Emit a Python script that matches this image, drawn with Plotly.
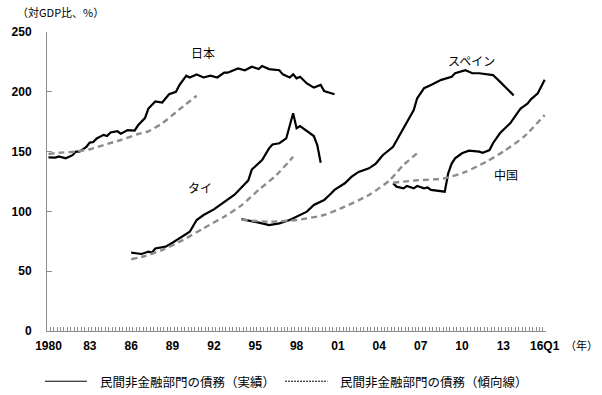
import plotly.graph_objects as go

# ---------------- data (year as decimal, Q1 = .0) ----------------
japan_x = [1980.0, 1980.5, 1980.75, 1981.25, 1981.75, 1982.0, 1982.25, 1982.75, 1983.0, 1983.25,
           1983.5, 1984.0, 1984.25, 1984.5, 1985.0, 1985.25, 1985.75, 1986.25, 1986.5, 1987.0,
           1987.25, 1987.75, 1988.25, 1988.75, 1989.25, 1989.5, 1990.0, 1990.25, 1990.75, 1991.25,
           1991.75, 1992.25, 1992.75, 1993.0, 1993.75, 1994.25, 1994.75, 1995.25, 1995.5, 1996.0,
           1996.75, 1997.0, 1997.5, 1997.75, 1998.0, 1998.25, 1998.75, 1999.25, 1999.75, 2000.0,
           2000.75]
japan_y = [145.2, 145, 146, 144.4, 147, 150, 150, 154, 157.5, 158,
           161, 164, 163, 166, 167, 165, 168, 167.5, 172, 178,
           186, 192, 191, 198, 200, 205.7, 213.5, 212, 214.5, 212,
           213.5, 212, 216, 216, 219.6, 218, 221, 219, 221.6, 219,
           218, 214.6, 212, 214.6, 211.3, 212.6, 207, 203.5, 205.7, 200.7,
           198]
japan_trend_x = [1980.0, 1980.75, 1982.0, 1983.0, 1984.0, 1985.25, 1986.5, 1987.25, 1988.25, 1989.25, 1990.75]
japan_trend_y = [148, 149, 150, 152, 155.5, 159.7, 164.7, 167, 173.6, 183, 196.7]

thai_x = [1986.0, 1986.5, 1986.75, 1987.25, 1987.5, 1987.75, 1988.5, 1989.0, 1989.5, 1990.25,
          1990.75, 1991.25, 1992.0, 1992.5, 1993.25, 1993.5, 1994.0, 1994.5, 1994.75, 1995.5,
          1996.0, 1996.25, 1996.75, 1997.0, 1997.25, 1997.75, 1998.0, 1998.25, 1998.75, 1999.25,
          1999.5, 1999.75]
thai_y = [65.5, 65, 64.4, 66.3, 65.5, 69, 70.5, 73.8, 77.5, 83,
          92.8, 97, 101.7, 106, 112, 114, 120, 126, 135, 143,
          152.7, 156, 157, 159, 161, 182, 169.5, 171.4, 167.5, 163,
          155.5, 140.7]
thai_trend_x = [1986.0, 1987.0, 1988.25, 1989.75, 1991.25, 1992.75, 1994.0, 1995.25, 1996.5, 1997.75]
thai_trend_y = [60, 62.7, 67.7, 76, 85.9, 95.6, 105, 118, 130, 145.7]

spain_x = [1994.0, 1994.75, 1995.5, 1996.0, 1996.75, 1997.5, 1998.25, 1998.75, 1999.25, 2000.0,
           2000.5, 2000.75, 2001.5, 2002.0, 2002.5, 2003.25, 2003.75, 2004.25, 2005.0, 2005.5,
           2006.0, 2006.5, 2006.75, 2007.25, 2007.75, 2008.0, 2008.5, 2009.25, 2009.5, 2010.25,
           2010.75, 2011.25, 2012.25, 2012.75, 2013.25, 2013.75]
spain_y = [93.6, 92, 90, 88.6, 90, 92.8, 97, 99.8, 105.4, 109.5,
           115, 118, 123.5, 129, 133, 136, 140, 147, 154, 164.5,
           175, 184.8, 194.6, 203, 205.7, 207, 210, 212.6, 215.5, 218,
           215.5, 215.5, 214, 208.5, 203, 197]
spain_trend_x = [1994.0, 1996.0, 1998.0, 2000.0, 2001.5, 2003.25, 2004.75, 2005.75, 2006.75]
spain_trend_y = [93, 91.4, 92.8, 97, 104, 113.7, 126, 138.8, 148.6]

china_x = [2005.0, 2005.25, 2005.75, 2006.0, 2006.5, 2006.75, 2007.25, 2007.5, 2007.75, 2008.25,
           2008.75, 2009.0, 2009.25, 2009.5, 2010.0, 2010.5, 2011.25, 2011.5, 2012.0, 2012.25,
           2012.75, 2013.25, 2013.5, 2014.0, 2014.25, 2014.75, 2015.0, 2015.5, 2015.75, 2016.0]
china_y = [123.5, 120.7, 119.3, 121.2, 119.3, 121.2, 119.3, 120, 118, 117,
           116.5, 131.8, 140, 144.4, 148.6, 150.8, 150, 149, 151.3, 157,
           165.3, 171, 173.6, 182, 186, 190, 193.7, 198.7, 204, 210]
china_trend_x = [2005.0, 2006.75, 2008.75, 2010.25, 2011.75, 2013.0, 2014.5, 2016.0]
china_trend_y = [124, 126, 127.7, 133, 141.5, 150, 162.5, 180.6]

tick_years = [1980, 1983, 1986, 1989, 1992, 1995, 1998, 2001, 2004, 2007, 2010, 2013, 2016]
tick_text = ["1980", "83", "86", "89", "92", "95", "98", "01", "04", "07", "10", "13", "16Q1"]

country_labels = ["日本", "タイ", "スペイン", "中国"]
label_pos_x = [1991.2, 1991.0, 2010.7, 2013.2]
label_pos_y = [233, 120, 226, 131]

legend_actual = "民間非金融部門の債務（実績）"
legend_trend = "民間非金融部門の債務（傾向線）"

# ---------------- figure ----------------
CJK = "Noto Sans CJK JP"
NUM = "Liberation Sans, Arial"
SOLID = dict(color="#000000", width=2.2)
TREND = dict(color="#8c8c8c", width=2.4, dash="6px,4px", shape="spline", smoothing=0.6)

fig = go.Figure()
for xs, ys in [(japan_x, japan_y), (thai_x, thai_y), (spain_x, spain_y), (china_x, china_y)]:
    fig.add_trace(go.Scatter(x=xs, y=ys, mode="lines", line=SOLID, showlegend=False, hoverinfo="skip"))
for xs, ys in [(japan_trend_x, japan_trend_y), (thai_trend_x, thai_trend_y),
               (spain_trend_x, spain_trend_y), (china_trend_x, china_trend_y)]:
    fig.add_trace(go.Scatter(x=xs, y=ys, mode="lines", line=TREND, showlegend=False, hoverinfo="skip"))

for t, x, y in zip(country_labels, label_pos_x, label_pos_y):
    fig.add_annotation(x=x, y=y, text=t, showarrow=False, font=dict(family=CJK, size=12, color="#000"))

# axis title / unit texts
fig.add_annotation(xref="paper", yref="paper", x=-0.065, y=1.067, xanchor="left", yanchor="middle",
                   text="（対GDP比、%）", showarrow=False, font=dict(family=CJK, size=11, color="#000"))
fig.add_annotation(xref="paper", yref="paper", x=1.035, y=-0.047, xanchor="left", yanchor="middle",
                   text="（年）", showarrow=False, font=dict(family=CJK, size=11, color="#000"))

# legend (drawn manually)
fig.add_shape(type="line", xref="paper", yref="paper", x0=-0.004, x1=0.08, y0=-0.168, y1=-0.168,
              line=dict(color="#000", width=1))
fig.add_annotation(xref="paper", yref="paper", x=0.103, y=-0.168, xanchor="left", yanchor="middle",
                   text=legend_actual, showarrow=False, font=dict(family=CJK, size=12.5, color="#000"))
fig.add_shape(type="line", xref="paper", yref="paper", x0=0.477, x1=0.562, y0=-0.168, y1=-0.168,
              line=dict(color="#000", width=1, dash="2px,1px"))
fig.add_annotation(xref="paper", yref="paper", x=0.583, y=-0.168, xanchor="left", yanchor="middle",
                   text=legend_trend, showarrow=False, font=dict(family=CJK, size=12.5, color="#000"))

fig.update_layout(
    width=602, height=395,
    margin=dict(l=37, r=56, t=32, b=64),
    paper_bgcolor="white", plot_bgcolor="white",
    showlegend=False,
    xaxis=dict(range=[1979.893, 2016.095], tickmode="array", tickvals=tick_years, ticktext=tick_text,
               ticks="", showgrid=False, zeroline=False, showline=True, linecolor="#8c8c8c", linewidth=1,
               tickfont=dict(family=NUM, size=12, color="#000", weight="bold"), ticklabelstandoff=4,
               minor=dict(ticks="inside", ticklen=4, tickcolor="#8c8c8c", tickwidth=1,
                          tick0=1979.875, dtick=0.25, showgrid=False)),
    yaxis=dict(range=[0, 250], tickvals=[0, 50, 100, 150, 200, 250], ticks="inside", ticklen=5,
               tickcolor="#8c8c8c", showgrid=False, zeroline=False, showline=True, linecolor="#8c8c8c",
               linewidth=1, tickfont=dict(family=NUM, size=12, color="#000", weight="bold"),
               ticklabelstandoff=12),
)

fig.write_html("out.html", config={"displayModeBar": False, "staticPlot": True},
               post_script="document.body.style.margin='0';document.body.style.overflow='hidden';")
